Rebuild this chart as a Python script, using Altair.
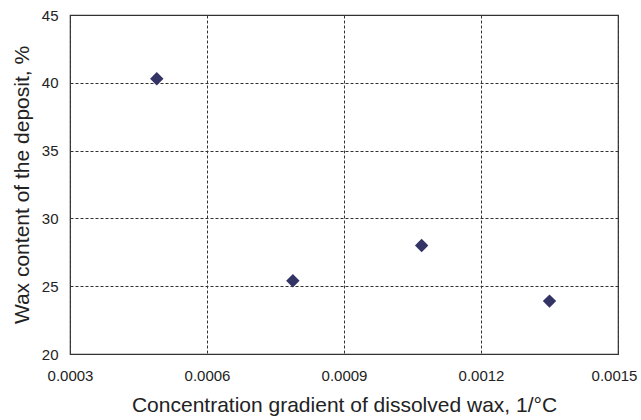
import altair as alt
import pandas as pd

gradient = [0.00049, 0.000788, 0.00107, 0.00135]
wax = [40.3, 25.4, 28.0, 23.9]
x_ticks = [0.0003, 0.0006, 0.0009, 0.0012, 0.0015]
y_ticks = [20, 25, 30, 35, 40, 45]

df = pd.DataFrame({"g": gradient, "w": wax})

font = "Liberation Sans"

chart = alt.Chart(df).mark_point(
    shape="diamond", filled=True, size=180, color="#333366", opacity=1
).encode(
    x=alt.X("g:Q", scale=alt.Scale(domain=[0.0003, 0.0015], nice=False, zero=False),
            axis=alt.Axis(values=x_ticks, format=".4f", title="Concentration gradient of dissolved wax, 1/°C",
                          labelFontSize=15, titleFontSize=21, titleFontWeight="normal",
                          labelFont=font, titleFont=font, labelColor="#222", titleColor="#222",
                          tickSize=0, labelPadding=14, titlePadding=11,
                          labelOffset={"condition": {"test": "datum.value > 0.0014", "value": -4}, "value": 0},
                          grid=True, gridDash=[3, 2], gridColor="#333", gridWidth=1,
                          domain=False, labelFlush=False, labelOverlap=False)),
    y=alt.Y("w:Q", scale=alt.Scale(domain=[20, 45], nice=False, zero=False),
            axis=alt.Axis(values=y_ticks, title="Wax content of the deposit, %",
                          labelFontSize=15, titleFontSize=21, titleFontWeight="normal",
                          labelFont=font, titleFont=font, labelColor="#222", titleColor="#222",
                          tickSize=0, labelPadding=12, titlePadding=9,
                          grid=True, gridDash=[3, 2], gridColor="#333", gridWidth=1,
                          domain=False)),
).properties(
    width=548, height=339,
    autosize=alt.AutoSizeParams(type="none"),
    padding={"left": 70, "top": 15, "right": 23, "bottom": 66},
).configure_view(stroke="#333", strokeWidth=1.2)

chart.save("out.html", embed_options={"renderer": "svg", "actions": False})
